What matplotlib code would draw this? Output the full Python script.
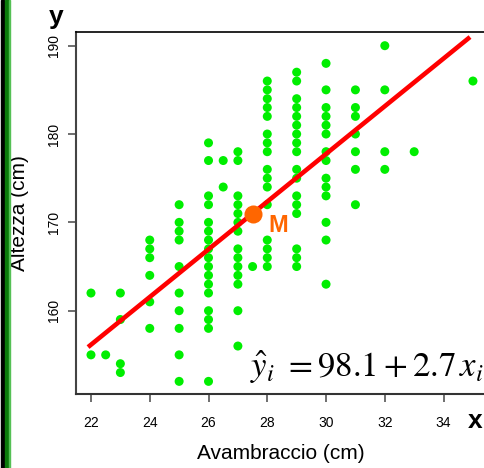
import matplotlib
matplotlib.use("Agg")
import matplotlib.pyplot as plt
from matplotlib.patches import Rectangle

plt.rcParams['font.family'] = ['Liberation Sans', 'DejaVu Sans']
plt.rcParams['mathtext.fontset'] = 'stix'

# avambraccio (cm) -> altezze (cm) osservate, colonna per colonna
x_values = [22, 22.5, 23, 24, 25, 26, 26.5, 27, 27.5, 28, 29, 30, 31, 32, 33, 35]
y_columns = [
    [162, 155],
    [155],
    [162, 159, 154, 153],
    [168, 167, 166, 164, 161, 158],
    [172, 170, 169, 168, 165, 162, 160, 158, 155, 152],
    [179, 177, 173, 172, 170, 169, 168, 167, 166, 165, 164, 163, 162, 160, 159, 158, 152],
    [177, 174],
    [178, 177, 173, 172, 171, 170, 169, 167, 166, 165, 164, 163, 160, 156],
    [165],
    [186, 185, 184, 183, 182, 180, 179, 178, 176, 175, 174, 172, 168, 167, 166, 165],
    [187, 186, 184, 183, 182, 181, 180, 179, 178, 176, 175, 173, 172, 171, 167, 166, 165],
    [188, 185, 183, 182, 181, 180, 178, 177, 175, 174, 173, 170, 168, 163],
    [185, 183, 182, 180, 178, 176, 172],
    [190, 185, 178, 176],
    [178],
    [186],
]

# punto medio M e retta di regressione
mean_x, mean_y = 27.5, 171
slope = 2.7
line_x = [21.9, 34.9]
x_ticks = [22, 24, 26, 28, 30, 32, 34]
y_ticks = [160, 170, 180, 190]

xs, ys = [], []
for xv, col in zip(x_values, y_columns):
    for yv in col:
        xs.append(xv)
        ys.append(yv)

W, H = 485, 468
fig = plt.figure(figsize=(W / 100, H / 100), dpi=100)
ax = fig.add_axes([76 / W, 1 - 394 / H, 1 - 76 / W, (394 - 32) / H])

ax.scatter(xs, ys, s=42, color='#00ee00', edgecolors='none', zorder=2)
line_y = [mean_y + slope * (v - mean_x) for v in line_x]
ax.plot(line_x, line_y, color='#ff0000', lw=3.3, solid_capstyle='butt', zorder=3)
ax.plot([mean_x], [mean_y], 'o', color='#ff6600', ms=13, mec='none', zorder=4)
ax.annotate('M', (mean_x, mean_y), xytext=(18.5, -8.5), textcoords='offset points',
            ha='center', va='center', fontsize=17, fontweight='bold', color='#ff6600')

ax.set_xlim(21.49, 35.41)
ax.set_ylim(150.57, 191.55)
ax.set_xticks(x_ticks)
ax.set_yticks(y_ticks)
ax.tick_params(axis='x', length=6, width=1.2, color='#555555', pad=10, labelsize=10)
ax.tick_params(axis='y', length=6, width=1.2, color='#555555', pad=5, labelsize=10)
for lab in ax.get_yticklabels():
    lab.set_rotation(90)
    lab.set_va('center')
ax.spines['right'].set_visible(False)
ax.spines['top'].set_linewidth(1.2)
ax.spines['left'].set_color('#444444')
ax.spines['left'].set_linewidth(1.5)
ax.spines['bottom'].set_color('#333333')
ax.spines['bottom'].set_linewidth(1.5)

ax.set_xlabel('Avambraccio (cm)', fontsize=15, labelpad=10)
ax.set_ylabel('Altezza (cm)', fontsize=15, labelpad=13)

fig.text(56 / W, 1 - 17 / H, 'y', fontsize=19, fontweight='bold', ha='center', va='center')
fig.text(475 / W, 1 - 421 / H, 'x', fontsize=19, fontweight='bold', ha='center', va='center')
fig.text(483 / W, 1 - 377 / H, r'$\hat{y}_i\ = 98.1 + 2.7\,x_i$', fontsize=25,
         ha='right', va='baseline')

# bordo decorativo a sinistra
fig.patches.append(Rectangle((1 / W, 0), 3 / W, 1, transform=fig.transFigure,
                             color='black', zorder=0))
fig.patches.append(Rectangle((5.5 / W, 0), 3.5 / W, 1, transform=fig.transFigure,
                             color='#0a7a0a', zorder=0))
fig.patches.append(Rectangle((9 / W, 0), 1.2 / W, 1, transform=fig.transFigure,
                             color='#55c055', zorder=0))

fig.savefig('out.png', dpi=100)
